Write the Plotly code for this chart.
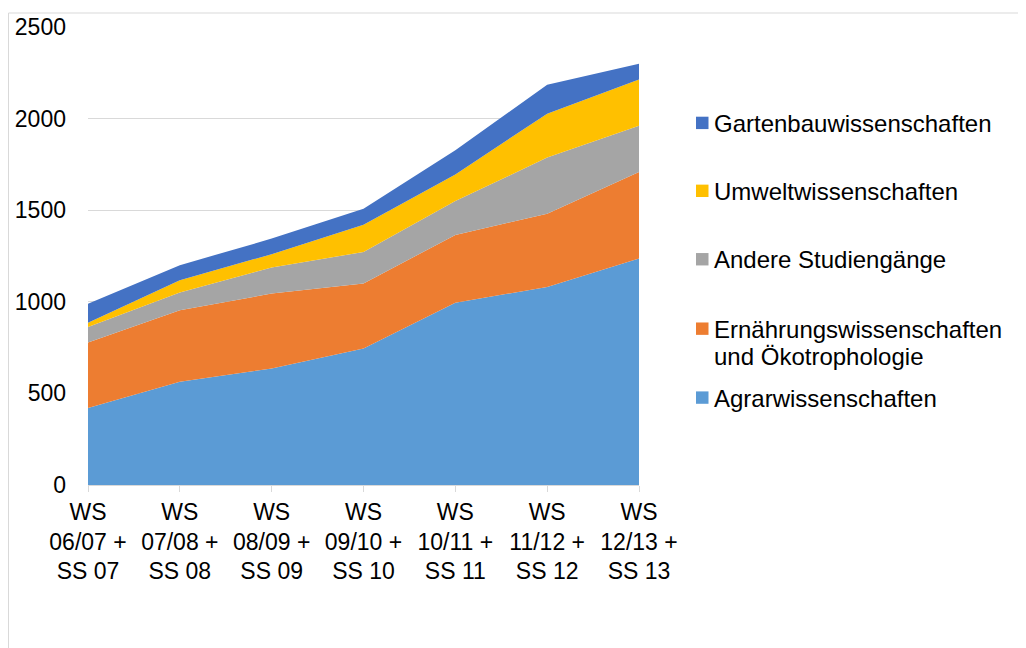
import plotly.graph_objects as go

categories = ["WS<br>06/07 +<br>SS 07", "WS<br>07/08 +<br>SS 08", "WS<br>08/09 +<br>SS 09",
              "WS<br>09/10 +<br>SS 10", "WS<br>10/11 +<br>SS 11", "WS<br>11/12 +<br>SS 12",
              "WS<br>12/13 +<br>SS 13"]

agrar = [420, 563, 636, 745, 995, 1081, 1236]
ernaehrung = [358, 391, 409, 355, 370, 400, 472]
andere = [85, 97, 142, 172, 185, 306, 253]
umwelt = [22, 67, 73, 149, 145, 240, 253]
garten = [105, 82, 85, 87, 132, 158, 85]

series_names = ["Agrarwissenschaften", "Ernährungswissenschaften und Ökotrophologie",
                "Andere Studiengänge", "Umweltwissenschaften", "Gartenbauwissenschaften"]
legend_lines = [["Agrarwissenschaften"], ["Ernährungswissenschaften", "und Ökotrophologie"],
                ["Andere Studiengänge"], ["Umweltwissenschaften"], ["Gartenbauwissenschaften"]]
series_values = [agrar, ernaehrung, andere, umwelt, garten]
colors = ["#5B9BD5", "#ED7D31", "#A5A5A5", "#FFC000", "#4472C4"]

FONT = "Liberation Sans, Arial, sans-serif"
FS_TICK = 23
FS_LEG = 24

W, H = 1026, 648
OFF = 8  # page body margin
L, R, T, B = 88 - OFF, 639 - OFF, 26.5 - OFF, 485 - OFF  # plot area in figure pixels

fig = go.Figure()
for name, vals, col in zip(series_names, series_values, colors):
    fig.add_trace(go.Scatter(
        x=list(range(len(categories))), y=vals, name=name,
        stackgroup="one", mode="lines", line=dict(width=0, color=col),
        fillcolor=col, showlegend=False, hoverinfo="skip"))

def px2x(px):
    return (px - OFF - L) / (R - L)

def py2y(py):
    return (B - (py - OFF)) / (B - T)

shapes = []
annotations = []
# legend (drawn manually, reversed order); page-pixel centres of each row
legend_rows = [(4, 122.5), (3, 190.5), (2, 259), (1, 328.5), (0, 397.5)]
for idx, cy in legend_rows:
    shapes.append(dict(type="rect", xref="paper", yref="paper",
                       x0=px2x(696), x1=px2x(708.5), y0=py2y(cy + 6.2), y1=py2y(cy - 6.2),
                       fillcolor=colors[idx], line=dict(width=0)))
    for k, line in enumerate(legend_lines[idx]):
        annotations.append(dict(xref="paper", yref="paper", x=px2x(712),
                                y=py2y(cy + 0.5 + 27 * k),
                                text=line, showarrow=False, xanchor="left",
                                yanchor="middle", align="left",
                                font=dict(family=FONT, size=FS_LEG, color="#000000")))

# outer chart border (cropped)
shapes.append(dict(type="line", xref="paper", yref="paper", x0=px2x(8.5), x1=px2x(8.5),
                   y0=py2y(12.5), y1=py2y(680), line=dict(color="#d9d9d9", width=1)))
shapes.append(dict(type="line", xref="paper", yref="paper", x0=px2x(8.5), x1=px2x(1060),
                   y0=py2y(12.5), y1=py2y(12.5), line=dict(color="#d9d9d9", width=1)))

fig.update_layout(
    width=W, height=H,
    margin=dict(l=L, r=W - R, t=T, b=H - B, pad=0, autoexpand=False),
    paper_bgcolor="white", plot_bgcolor="white",
    font=dict(family=FONT, size=FS_TICK, color="#000000"),
    shapes=shapes, annotations=annotations,
    xaxis=dict(tickmode="array", tickvals=list(range(len(categories))), ticktext=categories,
               range=[0, len(categories) - 1], showgrid=False, zeroline=False,
               showline=True, linecolor="#d9d9d9", linewidth=1, automargin=False,
               ticks="outside", ticklen=6, tickcolor="#d9d9d9",
               tickfont=dict(family=FONT, size=FS_TICK, color="#000000")),
    yaxis=dict(range=[0, 2500], tickvals=[0, 500, 1000, 1500, 2000, 2500],
               showgrid=True, gridcolor="#d9d9d9", gridwidth=1, zeroline=False,
               showline=False, ticks="", ticklabelstandoff=21, automargin=False,
               tickfont=dict(family=FONT, size=FS_TICK, color="#000000")),
)

fig.write_html("out.html")
